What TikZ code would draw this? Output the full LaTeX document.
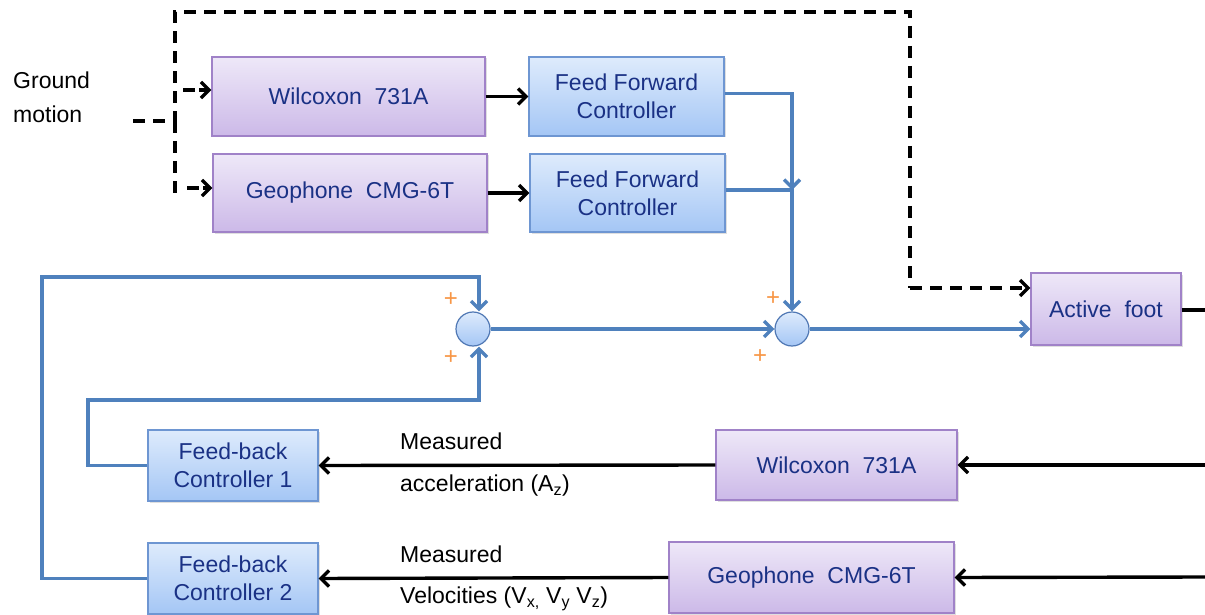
\documentclass[tikz,border=0pt]{standalone}
\usepackage{fontspec}
\setmainfont{Liberation Sans}
\usetikzlibrary{arrows.meta,shadows}
\definecolor{txtblue}{HTML}{1A3185}
\definecolor{wireblue}{HTML}{4F81BD}
\definecolor{plusorange}{HTML}{F79646}
\tikzset{
  base/.style={draw, line width=1.2pt, inner sep=0pt, align=center, text=txtblue,
    font=\fontsize{23}{28}\selectfont, drop shadow={shadow xshift=1.5pt, shadow yshift=-1.5pt, opacity=0.25}},
  sensor/.style={base, draw={rgb,255:red,160;green,130;blue,200}, top color={rgb,255:red,238;green,232;blue,248}, bottom color={rgb,255:red,204;green,185;blue,232}},
  ctrl/.style={base, draw={rgb,255:red,110;green,150;blue,210}, top color={rgb,255:red,222;green,235;blue,252}, bottom color={rgb,255:red,164;green,198;blue,245}},
  sumnode/.style={circle, draw={rgb,255:red,80;green,120;blue,180}, line width=1.2pt, minimum size=34pt, inner sep=0pt,
    top color={rgb,255:red,222;green,235;blue,252}, bottom color={rgb,255:red,164;green,198;blue,245}},
  blk/.style={line width=3.4pt, draw=black},
  dsh/.style={line width=3.4pt, draw=black, dash pattern=on 12pt off 8pt},
  bw/.style={line width=3.4pt, draw=wireblue},
  tip/.style={-{Straight Barb[length=8pt,width=16pt,line width=3.4pt]}},
  lbl/.style={inner sep=0pt, anchor=west, font=\fontsize{23}{28}\selectfont},
  plus/.style={text=plusorange, font=\fontsize{24}{24}\selectfont, inner sep=0pt}
}
\begin{document}
\begin{tikzpicture}[x=1pt,y=-1pt]
\useasboundingbox (0,0) rectangle (1205,615);

% boxes
\node[sensor, minimum width=273pt, minimum height=79pt] (w1) at (348.5,96.5) {Wilcoxon\ \ 731A};
\node[sensor, minimum width=274pt, minimum height=78pt] (g1) at (350,193) {Geophone\ \ CMG-6T};
\node[ctrl, minimum width=195pt, minimum height=79pt] (ff1) at (626.5,96.5) {Feed Forward\\Controller};
\node[ctrl, minimum width=195pt, minimum height=78pt] (ff2) at (627.5,193) {Feed Forward\\Controller};
\node[sensor, minimum width=150pt, minimum height=72pt] (af) at (1106,309) {Active\ \ foot};
\node[ctrl, minimum width=170pt, minimum height=71pt] (fb1) at (233,465.5) {Feed-back\\Controller 1};
\node[ctrl, minimum width=170pt, minimum height=71pt] (fb2) at (233,578.5) {Feed-back\\Controller 2};
\node[sensor, minimum width=241pt, minimum height=70pt] (w2) at (836.5,465) {Wilcoxon\ \ 731A};
\node[sensor, minimum width=285pt, minimum height=71pt] (g2) at (811.5,577.5) {Geophone\ \ CMG-6T};

\node[sumnode] (s1) at (473,329) {};
\node[sumnode] (s2) at (792,329) {};

% texts
\node[lbl, align=left, anchor=north west, font=\fontsize{23}{34}\selectfont] (gm) at (13,72) {Ground\\motion};
\node[lbl] (m1) at (400,441) {Measured};
\node[lbl] (a1) at (400,486) {acceleration (A\textsubscript{z})};
\node[lbl] (m2) at (400,554) {Measured};
\node[lbl] (v2) at (400,599) {Velocities (V\textsubscript{x,} V\textsubscript{y} V\textsubscript{z})};

\node[plus] (p1) at (451,300) {+};
\node[plus] (p2) at (451,358) {+};
\node[plus] (p3) at (773,299) {+};
\node[plus] (p4) at (760,357) {+};

% coordinates
\coordinate (gmend) at (133,121);
\coordinate (split) at (175,121);
\coordinate (top) at (175,12);
\coordinate (topr) at (910,12);
\coordinate (afin) at (910,288);
\coordinate (rightin1) at (1205,465);
\coordinate (rightin2) at (1205,577);
\coordinate (afout) at (1205,310);
\coordinate (j1) at (792,190);
\coordinate (fbl) at (42,277);
\coordinate (fbl2) at (88,400);

% dashed ground motion
\draw[dsh] (gmend) -- (split) -- (top) -- (topr) -- (afin);
\draw[dsh] (split) -- (175,193);
\draw[dsh,tip] (afin) -- (af.west |- afin);
\draw[dsh,tip,dash pattern=on 12pt off 4pt] (183,90) -- (w1.west |- 0,90);
\draw[dsh,tip,dash pattern=on 12pt off 4pt] (187,188) -- (g1.west |- 0,188);

% black signals
\draw[blk,tip] (w1.east) -- (ff1.west);
\draw[blk,tip] (g1.east) -- (ff2.west);
\draw[blk] (af.east |- afout) -- (afout);
\draw[blk,tip] (rightin1) -- (w2.east);
\draw[blk,tip] (w2.west) -- (fb1.east);
\draw[blk,tip] (rightin2) -- (g2.east);
\draw[blk,tip] (g2.west) -- (fb2.east);

% blue wires
\draw[bw,tip] ([yshift=3pt]ff1.east) -| (j1);
\draw[bw,tip] ([yshift=3pt]ff2.east) -| (s2.north);
\draw[bw,tip] (s1.east) -- (s2.west);
\draw[bw,tip] (s2.east) -- (af.west |- s2);
\draw[bw,tip] (fb2.west) -| (fbl) -| ([xshift=6pt]s1.north);
\draw[bw,tip] (fb1.west) -| (fbl2) -| ([xshift=6pt]s1.south);
\end{tikzpicture}
\end{document}
